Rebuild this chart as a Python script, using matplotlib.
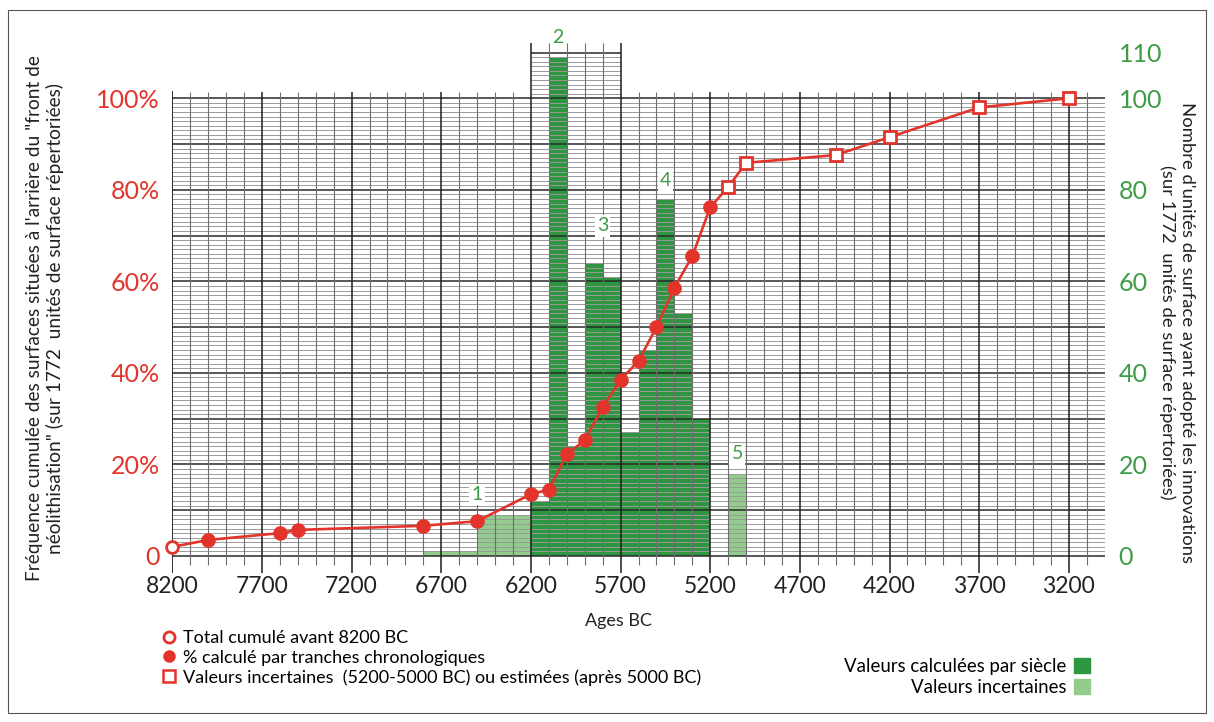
import numpy as np
import matplotlib
matplotlib.use('Agg')
import matplotlib.pyplot as plt
from matplotlib.lines import Line2D
from matplotlib.patches import Patch, Rectangle

plt.rcParams['font.family'] = ['Lato', 'DejaVu Sans']

# --- données ---
# courbe cumulée (%)
annees = [8200, 8000, 7600, 7500, 6800, 6500, 6200, 6100, 6000, 5900, 5800, 5700,
          5600, 5500, 5400, 5300, 5200, 5100, 5000, 4500, 4200, 3700, 3200]
pourcent = [2.0, 3.5, 5.0, 5.7, 6.6, 7.6, 13.5, 14.5, 22.2, 25.3, 32.5, 38.5,
            42.6, 50.0, 58.6, 65.5, 76.2, 80.6, 85.9, 87.6, 91.5, 98.0, 100.0]

# histogramme par siècle (début du siècle, nombre d'unités)
siecles_calc = [6200, 6100, 6000, 5900, 5800, 5700, 5600, 5500, 5400, 5300]
n_calc = [12, 109, 24, 64, 61, 27, 45, 78, 53, 30]
siecles_inc = [6800, 6700, 6600, 6500, 6400, 6300, 5100]
n_inc = [1, 1, 1, 9, 9, 9, 18]

# étiquettes numérotées
num_txt = ['1', '2', '3', '4', '5']
num_x = [6500, 6050, 5800, 5450, 5050]
num_y = [13.5, 113.2, 72.1, 82.1, 22.3]

xticks = [8200, 7700, 7200, 6700, 6200, 5700, 5200, 4700, 4200, 3700, 3200]
yticks_g = [0, 20, 40, 60, 80, 100]
yticks_g_lab = ['0', '20%', '40%', '60%', '80%', '100%']
yticks_d = [0, 20, 40, 60, 80, 100, 110]

ROUGE = '#e2342b'
VERT_TXT = '#3d9c45'
VERT_F = '#2e9640'
VERT_C = '#93cc8d'

fig = plt.figure(figsize=(12.14, 7.22), dpi=100)
ax = fig.add_axes([0.14193, 0.20457, 0.76804, 0.74169])
ax.set_xlim(8200, 3000)
ax.set_ylim(-4, 113)

# barres
ax.bar([s - 50 for s in siecles_calc], n_calc, width=100, color=VERT_F, zorder=1)
ax.bar([s - 50 for s in siecles_inc], n_inc, width=100, color=VERT_C, zorder=1)

# --- grille "papier millimétré" ---
h_min = [v for v in range(1, 100) if v % 10 != 0]
h_maj = list(range(0, 101, 10))
ax.hlines(h_min, 8215, 3000, color='#9a9a9a', lw=0.7, zorder=2)
ax.hlines(h_maj, 8240, 3000, color='#2a2a2a', lw=1.1, zorder=2)
# zone au-dessus de 100 entre 6200 et 5700
ax.hlines(list(range(101, 110)), 6200, 5700, color='#9a9a9a', lw=0.7, zorder=2)
ax.hlines([110], 6200, 5700, color='#2a2a2a', lw=1.1, zorder=2)

v_all = list(range(8100, 3000, -100))
v_maj = [a for a in v_all if (8200 - a) % 500 == 0]
v_min = [a for a in v_all if (8200 - a) % 500 != 0]
for a in v_min:
    top = 112 if 5700 <= a <= 6200 else 101.4
    ax.vlines(a, -2, top, color='#6e6e6e', lw=0.8, zorder=2)
for a in v_maj:
    top = 112 if 5700 <= a <= 6200 else 101.4
    ax.vlines(a, -3.8, top, color='#1e1e1e', lw=1.1, zorder=2)
ax.vlines(8200, -3.8, 101.6, color='#1e1e1e', lw=1.3, zorder=2)

# courbe cumulée
ax.plot(annees, pourcent, color=ROUGE, lw=1.9, zorder=3, clip_on=False)
ax.plot(annees[:1], pourcent[:1], 'o', ms=8.5, mfc='white', mec=ROUGE, mew=2,
        zorder=4, clip_on=False)
ax.plot(annees[1:17], pourcent[1:17], 'o', ms=9.5, color=ROUGE, zorder=4, clip_on=False)
ax.plot(annees[17:], pourcent[17:], 's', ms=9, mfc='white', mec=ROUGE, mew=2,
        zorder=4, clip_on=False)

for t, x, y in zip(num_txt, num_x, num_y):
    ax.text(x, y, t, color=VERT_TXT, fontsize=14, ha='center', va='center', zorder=5,
            bbox=dict(facecolor='white', edgecolor='none', pad=1.5))

# axes
for s in ax.spines.values():
    s.set_visible(False)
ax.set_xticks(xticks)
ax.set_xticklabels([str(x) for x in xticks], fontsize=16.5, color='#222')
ax.tick_params(axis='x', length=0, pad=1)
ax.set_yticks(yticks_g)
ax.set_yticklabels(yticks_g_lab, fontsize=18, color=ROUGE)
ax.tick_params(axis='y', length=0, pad=9)

ax2 = ax.twinx()
ax2.set_ylim(-4, 113)
for s in ax2.spines.values():
    s.set_visible(False)
ax2.set_yticks(yticks_d)
ax2.set_yticklabels([str(v) for v in yticks_d], fontsize=18, color=VERT_TXT)
ax2.tick_params(axis='y', length=0, pad=10)

fig.text(45 / 1214, 1 - 318 / 722,
         'Fréquence cumulée des surfaces situées à l\'arrière du "front de\n'
         'néolithisation" (sur 1772  unités de surface répertoriées)',
         rotation=90, ha='center', va='center', fontsize=13.8, color='#222',
         linespacing=1.2)
fig.text(1177 / 1214, 1 - 332 / 722,
         "Nombre d'unités de surface ayant adopté les innovations\n"
         "(sur 1772  unités de surface répertoriées)",
         rotation=270, ha='center', va='center', fontsize=13.3, color='#222',
         linespacing=1.2)
fig.text(618 / 1214, 1 - 621 / 722, 'Ages BC', ha='center', va='center',
         fontsize=13, color='#222')

# légendes
h1 = [Line2D([], [], ls='none', marker='o', ms=8, mfc='white', mec=ROUGE, mew=2),
      Line2D([], [], ls='none', marker='o', ms=8, color=ROUGE),
      Line2D([], [], ls='none', marker='s', ms=9, mfc='white', mec=ROUGE, mew=1.8)]
l1 = ['Total cumulé avant 8200 BC', '% calculé par tranches chronologiques',
      'Valeurs incertaines  (5200-5000 BC) ou estimées (après 5000 BC)']
fig.legend(h1, l1, loc='upper left', bbox_to_anchor=(160 / 1214, 1 - 630 / 722),
           frameon=False, fontsize=13, handlelength=0.95, handletextpad=0.3,
           labelspacing=0.2, borderpad=0, borderaxespad=0)

h2 = [Patch(color=VERT_F), Patch(color=VERT_C)]
l2 = ['Valeurs calculées par siècle', 'Valeurs incertaines']
fig.legend(h2, l2, loc='upper right', bbox_to_anchor=(1090 / 1214, 1 - 658 / 722),
           frameon=False, fontsize=13.4, markerfirst=False, handlelength=0.85,
           handleheight=0.85, handletextpad=0.4, labelspacing=0.2, borderpad=0,
           borderaxespad=0)

fig.patches.append(Rectangle((8 / 1214, 9 / 722), 1198 / 1214, 703 / 722,
                             transform=fig.transFigure, fill=False,
                             edgecolor='#555', lw=0.8))

fig.savefig('out.png', dpi=100)
